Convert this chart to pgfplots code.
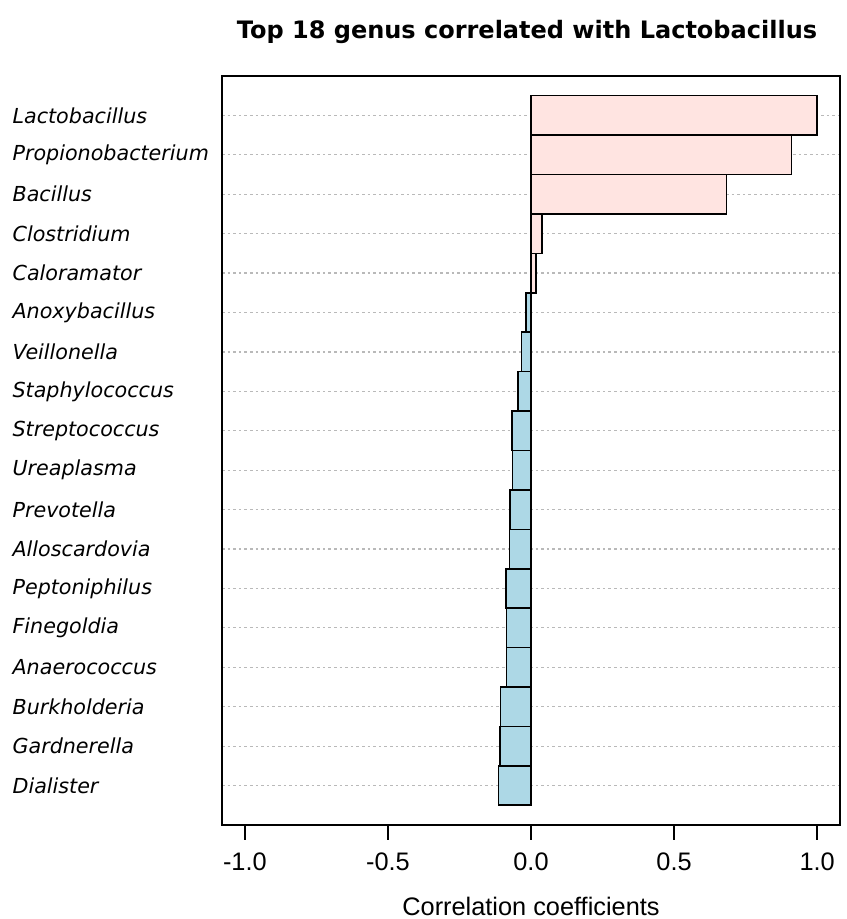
\documentclass[border=0pt]{standalone}
\usepackage{pgfplots}
\pgfplotsset{compat=1.18}
\usepackage{fontspec}
\setmainfont{Liberation Sans}
\newfontfamily\titlefont{DejaVu Sans}
\newfontfamily\labfont{DejaVu Sans}
\definecolor{posfill}{HTML}{FFE4E1}
\definecolor{negfill}{HTML}{ADD8E6}
\begin{document}
\begin{tikzpicture}
\useasboundingbox (-166.5pt,-70.5pt) rectangle (468pt,618.75pt);
\begin{axis}[
  at={(0,0)}, anchor=south west,
  scale only axis, width=463.5pt, height=561.75pt,
  xmin=-1.08, xmax=1.08, ymin=0, ymax=19,
  xtick={-1,-0.5,0,0.5,1},
  xticklabels={-1.0,-0.5,0.0,0.5,1.0},
  xtick pos=left,
  tick align=outside,
  major tick length=11pt,
  xtick style={line width=1.2pt, black},
  xticklabel style={font=\fontsize{19}{19}\selectfont, yshift=-6pt},
  ytick={1,...,18},
  yticklabels={Dialister,Gardnerella,Burkholderia,Anaerococcus,Finegoldia,Peptoniphilus,Alloscardovia,Prevotella,Ureaplasma,Streptococcus,Staphylococcus,Veillonella,Anoxybacillus,Caloramator,Clostridium,Bacillus,Propionobacterium,Lactobacillus},
  ytick style={draw=none},
  yticklabel style={font=\labfont\itshape\fontsize{15.5}{15.5}\selectfont, anchor=west, inner sep=0pt, xshift=-146.25pt},
  ymajorgrids,
  major grid style={gray!55, line width=0.9pt, dash pattern=on 2pt off 2.2pt},
  axis line style={line width=1pt},
  title={\titlefont\bfseries Top 18 genus correlated with Lactobacillus},
  title style={at={(axis description cs:0.5,1)}, anchor=center, yshift=27pt, xshift=-3pt, font=\fontsize{18}{18}\selectfont},
  xlabel={Correlation coefficients},
  xlabel style={at={(axis description cs:0.5,0)}, anchor=center, yshift=-60.75pt, font=\fontsize{19}{19}\selectfont},
]
\addplot[xbar, bar width=1, bar shift=0pt, fill=posfill, draw=black, line width=1.2pt]
  coordinates {(1.0,18) (0.911,17) (0.683,16) (0.039,15) (0.018,14)};
\addplot[xbar, bar width=1, bar shift=0pt, fill=negfill, draw=black, line width=1.2pt]
  coordinates {(-0.018,13) (-0.033,12) (-0.046,11) (-0.067,10) (-0.064,9) (-0.073,8) (-0.075,7) (-0.087,6) (-0.085,5) (-0.085,4) (-0.106,3) (-0.108,2) (-0.114,1)};
\end{axis}
\end{tikzpicture}
\end{document}
